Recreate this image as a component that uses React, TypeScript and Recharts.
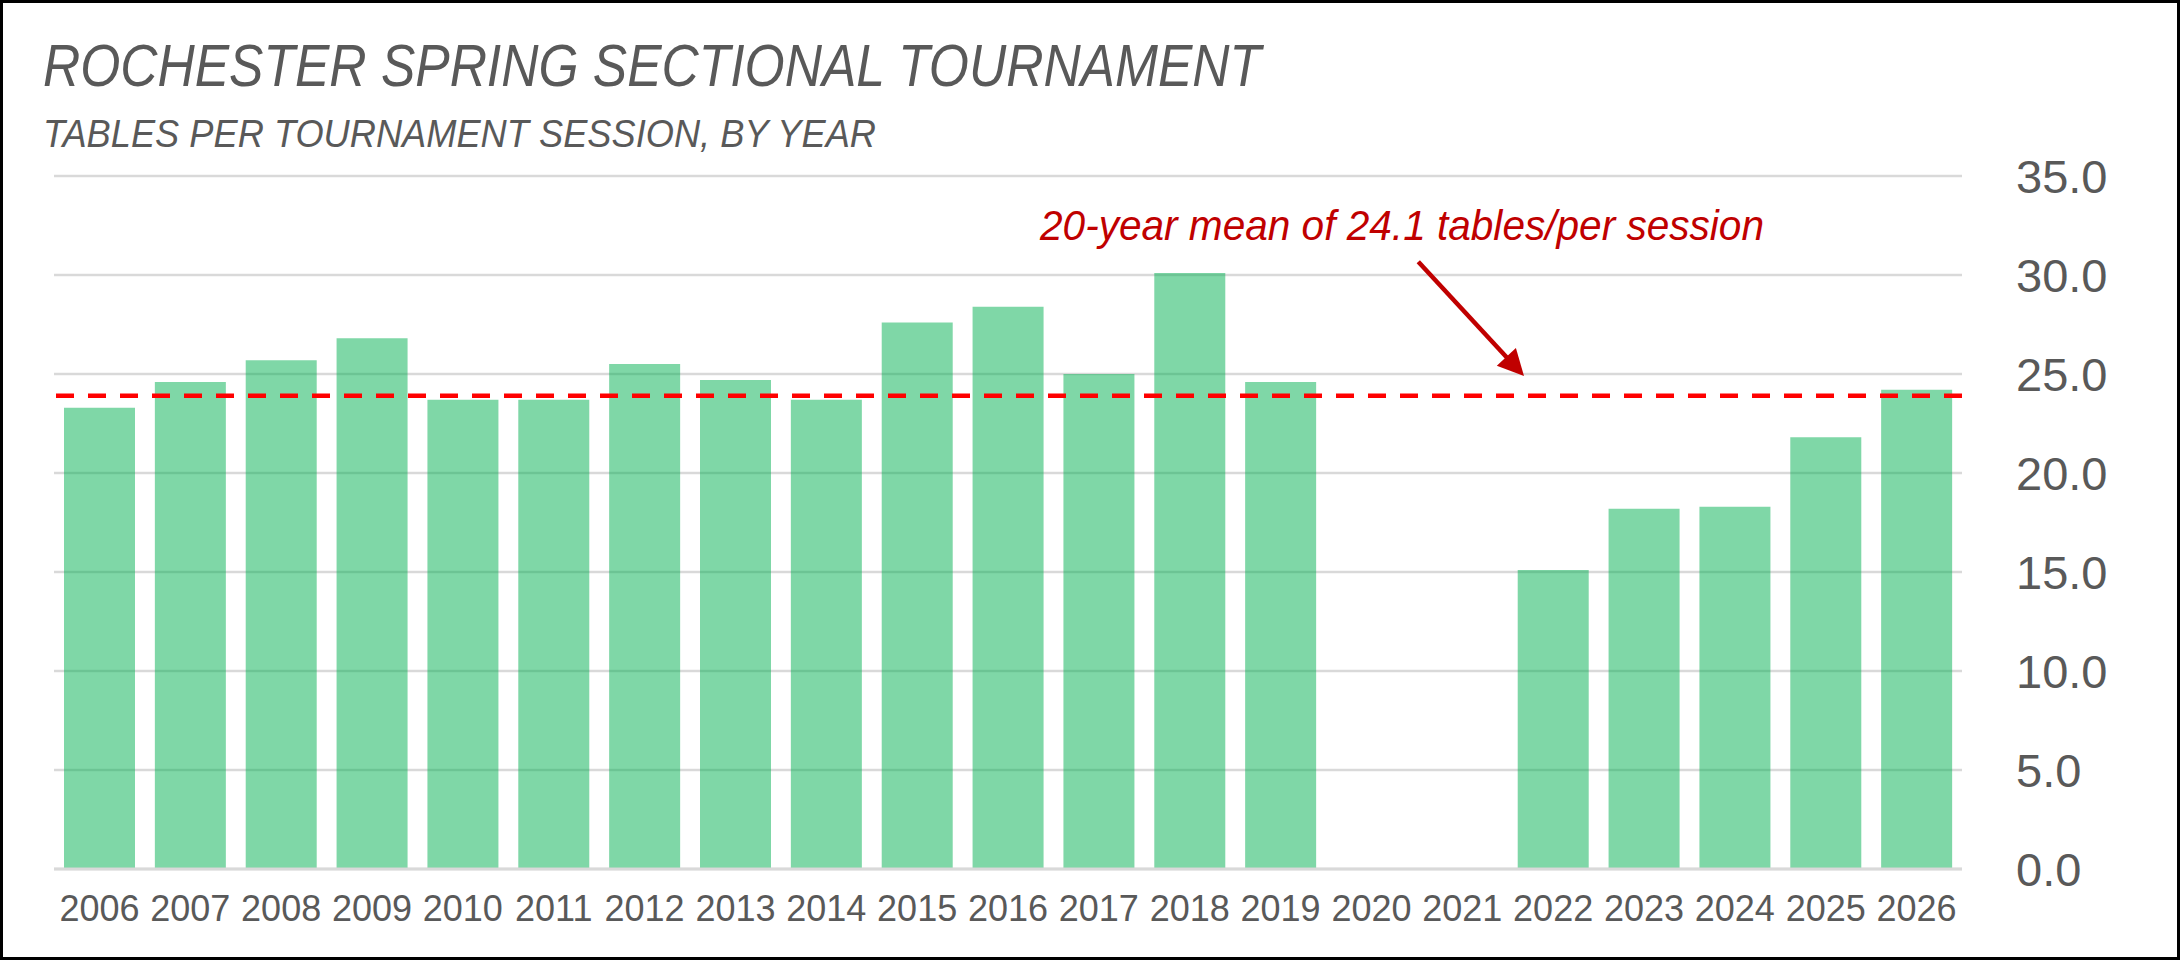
import React from "react";
import { BarChart, Bar, XAxis, YAxis, CartesianGrid, ReferenceLine } from "recharts";

const YEARS = ["2006","2007","2008","2009","2010","2011","2012","2013","2014","2015","2016","2017","2018","2019","2020","2021","2022","2023","2024","2025","2026"];
const TABLES: (number | null)[] = [23.3,24.6,25.7,26.8,23.7,23.7,25.5,24.7,23.7,27.6,28.4,25.0,30.1,24.6,null,null,15.1,18.2,18.3,21.8,24.2];
const Y_TICKS = [0,5,10,15,20,25,30,35];
const MEAN_LINE = 23.9;

const TITLE = "ROCHESTER SPRING SECTIONAL TOURNAMENT";
const SUBTITLE = "TABLES PER TOURNAMENT SESSION, BY YEAR";
const NOTE = "20-year mean of 24.1 tables/per session";

const data = YEARS.map((y, i) => ({ year: y, tables: TABLES[i] }));

const FONT = "'Liberation Sans', Arial, sans-serif";
const GREY = "#595959";

export default function App() {
  return (
    <>
      <style>{"body{margin:0}"}</style>
      <div
        style={{
          position: "relative",
          width: 2180,
          height: 960,
          boxSizing: "border-box",
          border: "3px solid #000",
          background: "#fff",
          fontFamily: FONT,
        }}
      >
        <BarChart
          width={2174}
          height={954}
          data={data}
          margin={{ top: 173, left: 51, right: 15, bottom: 28 }}
        >
          <CartesianGrid vertical={false} stroke="#d9d9d9" strokeWidth={2.5} />
          <XAxis
            dataKey="year"
            interval={0}
            tickSize={0}
            tickMargin={26}
            height={60}
            axisLine={{ stroke: "#d9d9d9", strokeWidth: 3 }}
            tickLine={false}
            tick={{ fill: GREY, fontSize: 36, fontFamily: FONT }}
          />
          <YAxis
            orientation="right"
            width={200}
            domain={[0, 35]}
            ticks={Y_TICKS}
            interval={0}
            tickSize={0}
            tickMargin={54}
            axisLine={false}
            tickLine={false}
            tickFormatter={(v: number) => v.toFixed(1)}
            tick={{ fill: GREY, fontSize: 47, fontFamily: FONT, textAnchor: "start" }}
          />
          <Bar
            dataKey="tables"
            fill="#00B050"
            fillOpacity={0.5}
            barSize={71}
            isAnimationActive={false}
          />
          <ReferenceLine
            y={MEAN_LINE}
            stroke="#ff0000"
            strokeWidth={4.5}
            strokeDasharray="18 14"
          />
        </BarChart>
        <svg
          width={2174}
          height={954}
          style={{ position: "absolute", left: 0, top: 0, pointerEvents: "none" }}
        >
          <text
            x={40}
            y={83}
            fontSize={60}
            fontStyle="italic"
            fill={GREY}
            fontFamily={FONT}
            textLength={1218}
            lengthAdjust="spacingAndGlyphs"
          >
            {TITLE}
          </text>
          <text
            x={40}
            y={143.7}
            fontSize={39.5}
            fontStyle="italic"
            fill={GREY}
            fontFamily={FONT}
            textLength={833}
            lengthAdjust="spacingAndGlyphs"
          >
            {SUBTITLE}
          </text>
          <text
            x={1037}
            y={237}
            fontSize={42}
            fontStyle="italic"
            fill="#c00000"
            fontFamily={FONT}
            textLength={724}
            lengthAdjust="spacingAndGlyphs"
          >
            {NOTE}
          </text>
          <line x1={1415.3} y1={258.7} x2={1505} y2={355.7} stroke="#c00000" strokeWidth={4.5} />
          <polygon points="1521,373 1493.8,362.7 1512.9,345.1" fill="#c00000" />
        </svg>
      </div>
    </>
  );
}
